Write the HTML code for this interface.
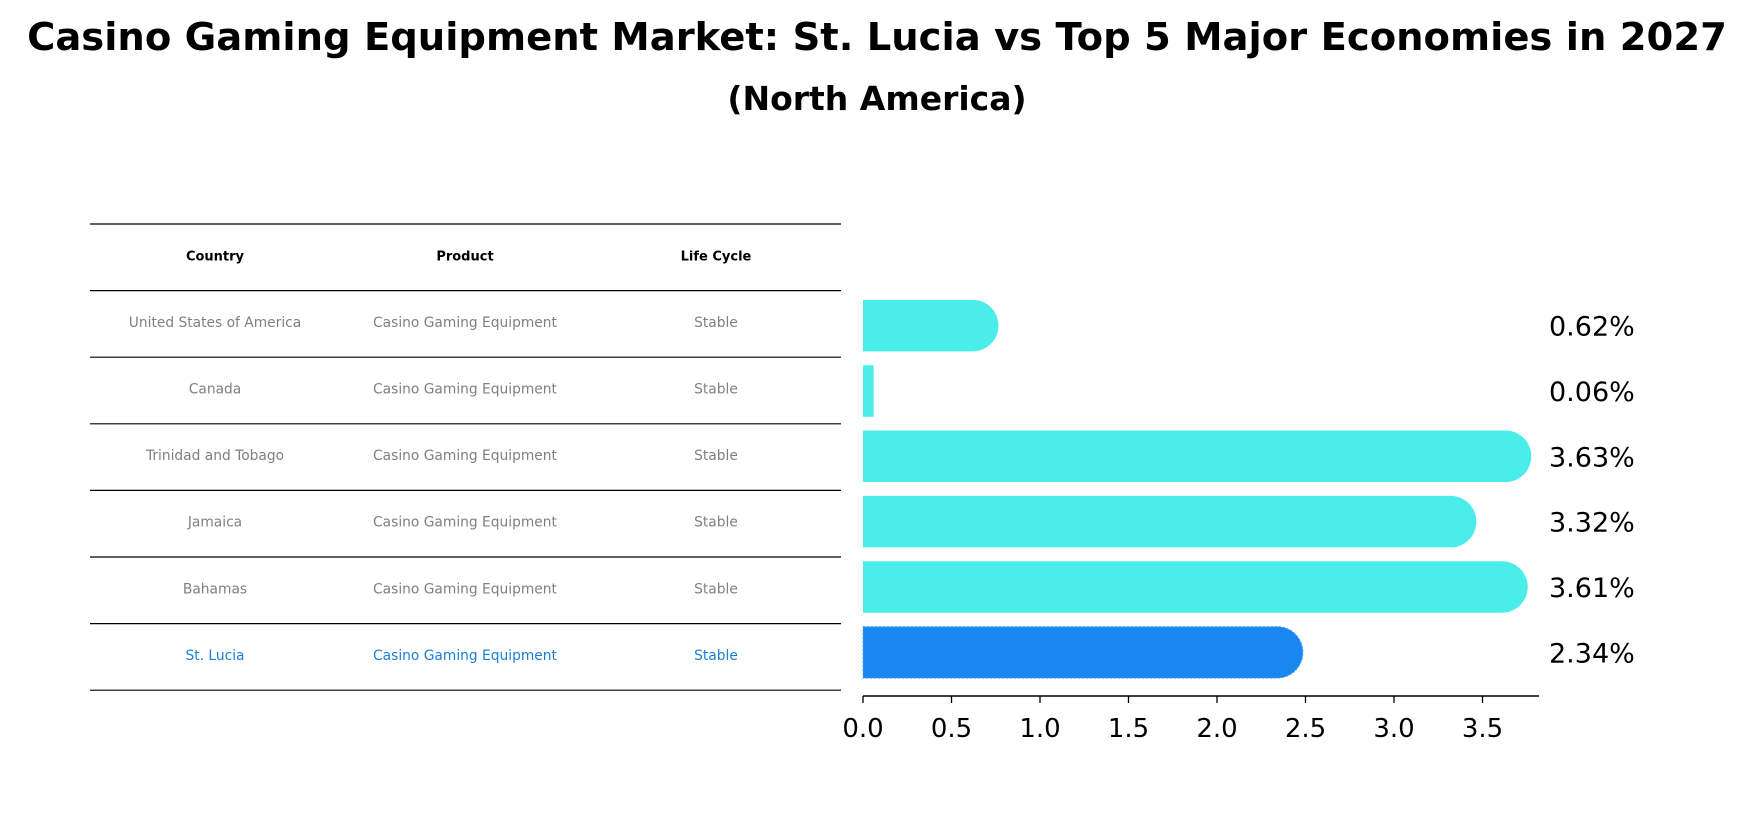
<!DOCTYPE html>
<html><head><meta charset="utf-8"><style>
body{margin:0;background:#fff;font-family:"DejaVu Sans","Liberation Sans",sans-serif;}
svg{display:block}
</style></head><body>
<svg width="1754" height="823" viewBox="0 0 1754 823">
<text x="877" y="50" text-anchor="middle" font-size="38.5" font-weight="bold">Casino Gaming Equipment Market: St. Lucia vs Top 5 Major Economies in 2027</text>
<text x="877" y="110" text-anchor="middle" font-size="33" font-weight="bold">(North America)</text>
<g id="table"></g>
<g id="bars"></g>
<g id="axis"></g>
</svg>
<script>
const countries=["United States of America","Canada","Trinidad and Tobago","Jamaica","Bahamas","St. Lucia"];
const products=["Casino Gaming Equipment","Casino Gaming Equipment","Casino Gaming Equipment","Casino Gaming Equipment","Casino Gaming Equipment","Casino Gaming Equipment"];
const lifeCycles=["Stable","Stable","Stable","Stable","Stable","Stable"];
const values=[0.62,0.06,3.63,3.32,3.61,2.34];
const ticks=[0,0.5,1,1.5,2,2.5,3,3.5];
const NS="http://www.w3.org/2000/svg";
const x0=863,unit=177,rowH=66.6,tableTop=224,barH=51.5;
function xs(v){return x0+v*unit;}
function yc(i){return tableTop+rowH*(i+1.5);}
function yb(i){return 325.6+65.35*i;}
function mk(tag,attrs,parent){const e=document.createElementNS(NS,tag);for(const k in attrs)e.setAttribute(k,attrs[k]);parent.appendChild(e);return e;}
const tbl=document.getElementById('table');
const colX=[215,465,716];
for(let i=0;i<=countries.length+1;i++){
  const l=mk('line',{x1:90,x2:841,y1:tableTop+rowH*i,y2:tableTop+rowH*i,stroke:'#000','stroke-width':1.2},tbl);
  
  
}
["Country","Product","Life Cycle"].forEach((h,j)=>{
  const t=mk('text',{x:colX[j],y:tableTop+rowH/2+3,'text-anchor':'middle','font-size':13,'font-weight':'bold'},tbl);
  t.textContent=h;
  
  
});
countries.forEach((c,i)=>{
  const col=i===countries.length-1?'#1a7fd6':'#808080';
  [c,products[i],lifeCycles[i]].forEach((s,j)=>{
    const t=mk('text',{x:colX[j],y:yc(i)+3,'text-anchor':'middle','font-size':13.8,fill:col},tbl);
    t.textContent=s;
    
    
  });
});
const bars=document.getElementById('bars');
values.forEach((v,i)=>{
  const hi=i===values.length-1;
  const color=hi?'#1a86f0':'#4aedea';
  const y=yb(i),top=y-barH/2,xe=xs(v),r=barH/2;
  let d;
  if(v>0.1){d=`M${x0},${top} L${xe},${top} A${r},${r} 0 0 1 ${xe},${top+barH} L${x0},${top+barH} Z`;}
  else{d=`M${x0},${top} L${xe},${top} L${xe},${top+barH} L${x0},${top+barH} Z`;}
  const p=mk('path',{d:d,fill:color},bars);
  if(hi){p.setAttribute('stroke','#4aa8f5');p.setAttribute('stroke-dasharray','2,2');p.setAttribute('stroke-width','1');}
  
  
  const t=mk('text',{x:1549,y:y+10,'font-size':27},bars);
  t.textContent=v.toFixed(2)+'%';
  
  
});
const ax=document.getElementById('axis');
const al=mk('line',{x1:x0,x2:1539,y1:696,y2:696,stroke:'#000','stroke-width':1.5},ax);


ticks.forEach(v=>{
  const tl=mk('line',{x1:xs(v),x2:xs(v),y1:696,y2:703,stroke:'#000','stroke-width':1.3},ax);
  
  
  const t=mk('text',{x:xs(v),y:737,'text-anchor':'middle','font-size':26},ax);
  t.textContent=v.toFixed(1);
  
  
});
</script>
</body></html>
